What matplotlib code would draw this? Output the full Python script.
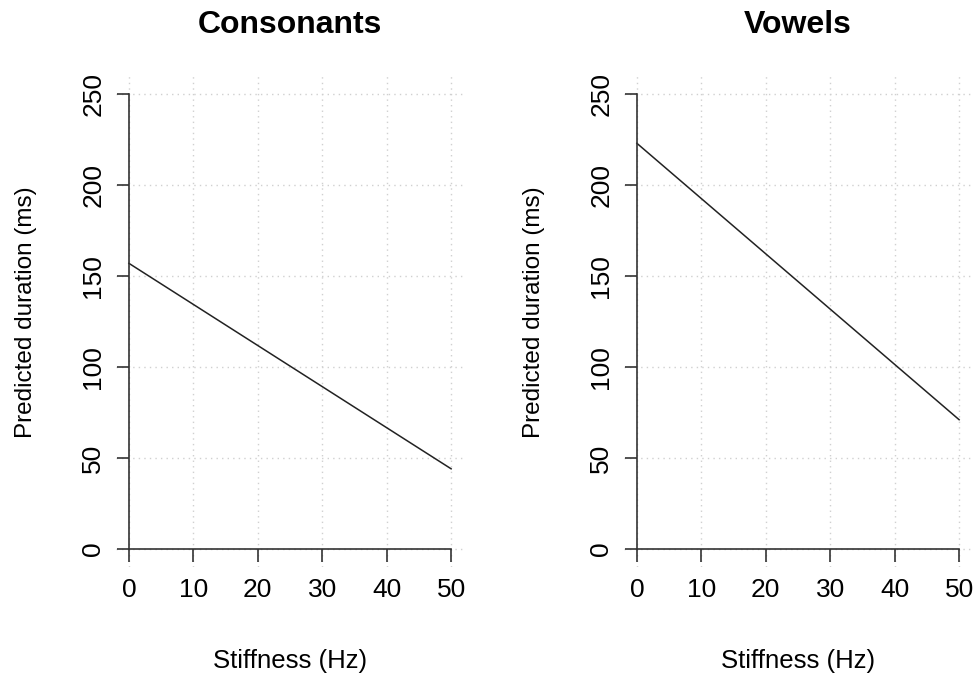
import numpy as np
import matplotlib.pyplot as plt

plt.rcParams['font.family'] = ['Liberation Sans', 'DejaVu Sans']

# Predicted duration (ms) against stiffness (Hz)
stiffness = [0, 50]
consonants = [157, 44]
vowels = [223, 71]
titles = ['Consonants', 'Vowels']
xticks = [0, 10, 20, 30, 40, 50]
yticks = [0, 50, 100, 150, 200, 250]

fig = plt.figure(figsize=(9.8, 6.79), dpi=100)
ax_left = fig.add_axes([116 / 980, 1 - 567 / 679, 348 / 980, 491 / 679])
ax_right = fig.add_axes([624 / 980, 1 - 567 / 679, 348 / 980, 491 / 679])

for ax, vals, title in zip([ax_left, ax_right], [consonants, vowels], titles):
    # R-style 4% padding around the data range
    ax.set_xlim(-2, 52)
    ax.set_ylim(-10, 260)

    # dotted grid over the whole plot region
    for x in xticks:
        ax.axvline(x, color='#d0d0d0', linestyle=(0, (1, 3)), linewidth=1.0, zorder=0)
    for y in yticks:
        ax.axhline(y, color='#d0d0d0', linestyle=(0, (1, 3)), linewidth=1.0, zorder=0)

    ax.plot(stiffness, vals, color='#222222', linewidth=1.1)

    for side in ['top', 'right']:
        ax.spines[side].set_visible(False)
    ax.spines['left'].set_position(('data', 0))
    ax.spines['bottom'].set_position(('data', 0))
    ax.spines['left'].set_bounds(0, 250)
    ax.spines['bottom'].set_bounds(0, 50)
    for side in ['left', 'bottom']:
        ax.spines[side].set_linewidth(1.2)
        ax.spines[side].set_color('#333333')

    ax.set_xticks(xticks)
    ax.set_yticks(yticks)
    ax.tick_params(axis='both', length=9, width=1.2, color='#333333', labelsize=19)
    ax.tick_params(axis='x', pad=12)
    ax.tick_params(axis='y', pad=8)
    for lab in ax.get_yticklabels():
        lab.set_rotation(90)
        lab.set_va('center')

    ax.text(0.5, 1.104, title, transform=ax.transAxes, ha='center', va='center',
            fontsize=23, fontweight='bold')
    ax.text(0.5, -0.191, 'Stiffness (Hz)', transform=ax.transAxes, ha='center',
            va='center', fontsize=18.5)
    ax.text(-0.26, 0.519, 'Predicted duration (ms)', transform=ax.transAxes,
            ha='center', va='center', rotation=90, fontsize=17.5)

fig.savefig('out.png', dpi=100)
